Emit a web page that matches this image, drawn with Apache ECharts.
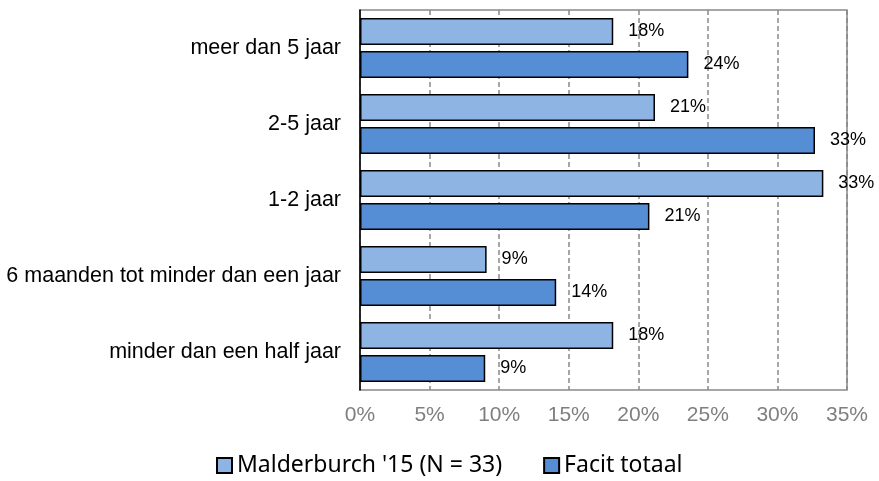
<!DOCTYPE html>
<html>
<head>
<meta charset="utf-8">
<script src="https://cdn.jsdelivr.net/npm/echarts@6/dist/echarts.min.js"></script>
<style>
  html, body { margin: 0; padding: 0; background: #fff; }
  #chart { width: 879px; height: 481px; }
</style>
</head>
<body>
<div id="chart"></div>
<script>
// categorieën van boven naar beneden
const categories = ['meer dan 5 jaar', '2-5 jaar', '1-2 jaar', '6 maanden tot minder dan een jaar', 'minder dan een half jaar'];
const malderburch = [18.2, 21.2, 33.3, 9.1, 18.2];
const facitTotaal = [23.6, 32.7, 20.8, 14.1, 9.0];
const seriesNames = ["Malderburch '15 (N = 33)", 'Facit totaal'];

const ARIAL = "'Liberation Sans', Arial, sans-serif";

const chart = echarts.init(document.getElementById('chart'));

const labelStyle = {
    show: true,
    position: 'right',
    distance: 15,
    color: '#000',
    fontFamily: ARIAL,
    fontSize: 18,
    formatter: function (p) { return Math.round(p.value) + '%'; }
};

const option = {
    animation: false,
    grid: {
        left: 360, right: 32, top: 10, bottom: 91,
        show: true,
        borderColor: '#898989',
        borderWidth: 1.5
    },
    legend: {
        left: 211,
        top: 449,
        itemWidth: 15,
        itemHeight: 15,
        itemGap: 41,
        icon: 'rect',
        textStyle: { fontFamily: "'Noto Sans', sans-serif", fontSize: 23, color: '#000' },
        data: seriesNames
    },
    xAxis: {
        type: 'value',
        min: 0,
        max: 35,
        interval: 5,
        axisLine: { show: false },
        axisTick: { show: false },
        splitLine: { show: true, lineStyle: { color: '#898989', type: [5, 3], width: 1.5 } },
        axisLabel: {
            formatter: '{value}%',
            color: '#7f7f7f',
            fontFamily: ARIAL,
            fontSize: 21,
            margin: 15
        }
    },
    yAxis: {
        type: 'category',
        inverse: true,
        data: categories,
        axisLine: { show: true, lineStyle: { color: '#000', width: 1.5 } },
        axisTick: { show: false },
        axisLabel: {
            color: '#000',
            fontFamily: ARIAL,
            fontSize: 21.5,
            margin: 19
        }
    },
    series: [
        {
            name: seriesNames[0],
            type: 'bar',
            data: malderburch,
            barWidth: 27,
            barGap: '22%',
            itemStyle: { color: '#8db4e2', borderColor: '#000', borderWidth: 1.5 },
            label: labelStyle
        },
        {
            name: seriesNames[1],
            type: 'bar',
            data: facitTotaal,
            barWidth: 27,
            barGap: '22%',
            itemStyle: { color: '#558ed5', borderColor: '#000', borderWidth: 1.5 },
            label: labelStyle
        }
    ]
};

chart.setOption(option);
</script>
</body>
</html>
